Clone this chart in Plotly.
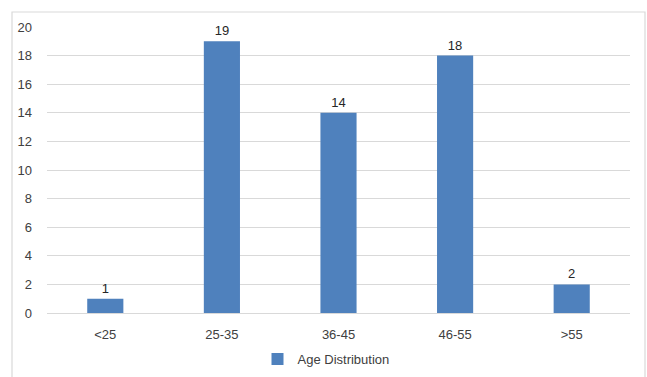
import plotly.graph_objects as go

categories = ["<25", "25-35", "36-45", "46-55", ">55"]
counts = [1, 19, 14, 18, 2]
series_name = "Age Distribution"

W, H = 647, 377
ml, mr, mt, mb = 47, 17, 27, 64
pw, ph = W - ml - mr, H - mt - mb

fig = go.Figure(
    go.Bar(
        x=categories,
        y=counts,
        name=series_name,
        marker=dict(color="#4F81BD", line=dict(width=0)),
        text=[str(v) for v in counts],
        textposition="outside",
        textfont=dict(size=13, color="#262626"),
        cliponaxis=False,
        showlegend=True,
    )
)

# outer chart frame
fig.add_shape(
    type="rect", xref="paper", yref="paper",
    x0=(12 - ml) / pw, x1=(645 - ml) / pw,
    y0=-(mb + 10) / ph, y1=1 + (mt - 12) / ph,
    line=dict(color="#D9D9D9", width=1.2), fillcolor="rgba(0,0,0,0)",
    layer="below",
)

fig.update_layout(
    width=W, height=H,
    margin=dict(l=ml, r=mr, t=mt, b=mb, autoexpand=False),
    paper_bgcolor="white", plot_bgcolor="white",
    font=dict(family="Liberation Sans, Arial, sans-serif", size=13, color="#404040"),
    bargap=0.69,
    showlegend=True,
    legend=dict(
        orientation="h", x=(326 - ml) / pw, xanchor="center",
        yref="container", y=1 - 359 / H, yanchor="middle",
        font=dict(size=13, color="#404040"), itemwidth=30,
    ),
    xaxis=dict(showgrid=False, showline=False, ticks="", ticklabelstandoff=12,
               tickfont=dict(size=13, color="#404040")),
    yaxis=dict(
        range=[0, 20], dtick=2, showgrid=True, gridcolor="#D9D9D9", gridwidth=1,
        zeroline=True, zerolinecolor="#D9D9D9", zerolinewidth=1,
        showline=False, ticks="", ticklabelstandoff=14,
        tickfont=dict(size=13, color="#404040"),
    ),
)

fig.write_html("out.html")
